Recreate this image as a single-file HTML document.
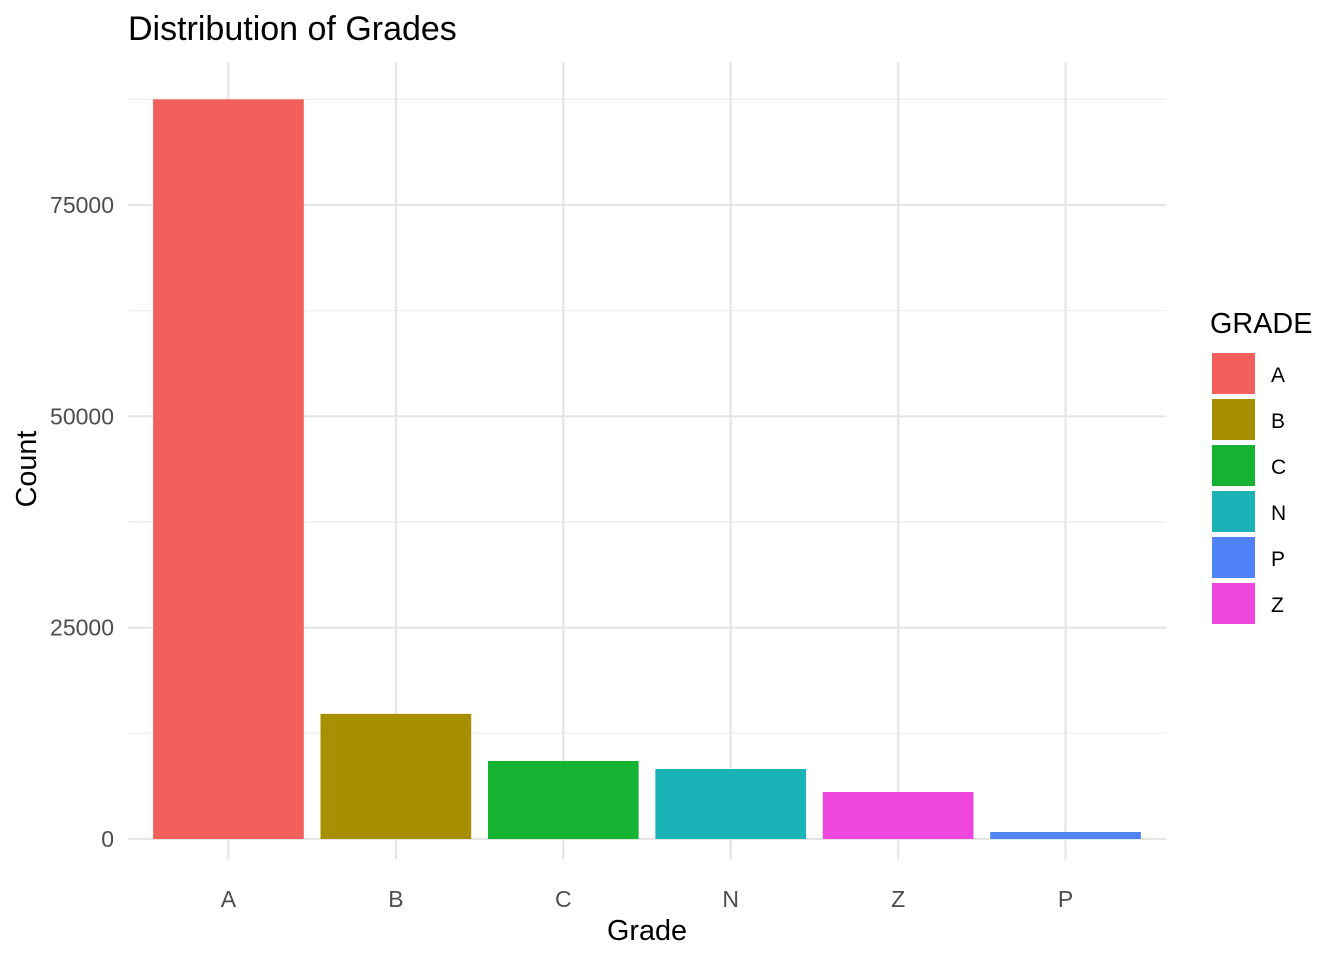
<!DOCTYPE html>
<html><head><meta charset="utf-8"><style>
body{margin:0;background:#fff;font-family:"Liberation Sans",Arial,sans-serif;}
</style></head><body>
<svg id="chart" width="1344" height="960" xmlns="http://www.w3.org/2000/svg" style="font-family:'Liberation Sans',Arial,sans-serif">
<text x="128" y="40" font-size="34" fill="#000">Distribution of Grades</text>
<g id="grid"></g>
<g id="bars"></g>
<g id="axes"></g>
<text x="647" y="940" font-size="28.8" text-anchor="middle">Grade</text>
<text transform="translate(36,469) rotate(-90)" font-size="28.8" text-anchor="middle">Count</text>
<g id="legend"></g>
</svg>
<script>
const categories = ["A","B","C","N","Z","P"];
const counts = [87500, 14800, 9230, 8280, 5560, 830];
const barColors = ["#F35F5B","#A68F00","#16B231","#19B3B8","#EF47DD","#5083F7"];
const yTicks = [0,25000,50000,75000];
const yMinor = [12500,37500,62500,87500];
const legendLabels = ["A","B","C","N","P","Z"];
const legendColors = ["#F35F5B","#A68F00","#16B231","#19B3B8","#5083F7","#EF47DD"];

const NS="http://www.w3.org/2000/svg";
const pLeft=128,pRight=1166,pTop=62,pBottom=839;
const yZero=839, pxPerUnit=(839-205)/75000;
const yS=v=>yZero-v*pxPerUnit;
const stepX=(pRight-pLeft)/(categories.length-1+1.2);
const xS=i=>pLeft+stepX*(0.6+i);
const bw=stepX*0.9;
function el(tag,attrs,parent){const e=document.createElementNS(NS,tag);for(const k in attrs)e.setAttribute(k,attrs[k]);parent.appendChild(e);return e;}
const grid=document.getElementById('grid'),bars=document.getElementById('bars'),axes=document.getElementById('axes'),legend=document.getElementById('legend');
yMinor.forEach(v=>{const l=el('line',{x1:pLeft,x2:pRight,y1:yS(v),y2:yS(v),stroke:'#ebebeb','stroke-width':1.2},grid);

});
yTicks.forEach(v=>{const l=el('line',{x1:pLeft,x2:pRight,y1:yS(v),y2:yS(v),stroke:'#e5e5e5','stroke-width':2.2},grid);


const t=el('text',{x:114,y:yS(v)+8,'font-size':23,fill:'#4d4d4d','text-anchor':'end'},axes);t.textContent=v;

});
categories.forEach((c,i)=>{const l=el('line',{x1:xS(i),x2:xS(i),y1:pTop,y2:pBottom+20,stroke:'#e5e5e5','stroke-width':2.2},grid);


const r=el('rect',{x:xS(i)-bw/2,y:yS(counts[i]),width:bw,height:yS(0)-yS(counts[i]),fill:barColors[i]},bars);


const t=el('text',{x:xS(i),y:907,'font-size':23,fill:'#4d4d4d','text-anchor':'middle'},axes);t.textContent=c;

});
const lt=el('text',{x:1210,y:333,'font-size':28.8},legend);lt.textContent='GRADE';


legendLabels.forEach((c,i)=>{const yy=353+i*46;
const r=el('rect',{x:1212,y:yy,width:43,height:41,fill:legendColors[i]},legend);


const t=el('text',{x:1271,y:yy+29,'font-size':21},legend);t.textContent=c;

});
</script>
</body></html>
